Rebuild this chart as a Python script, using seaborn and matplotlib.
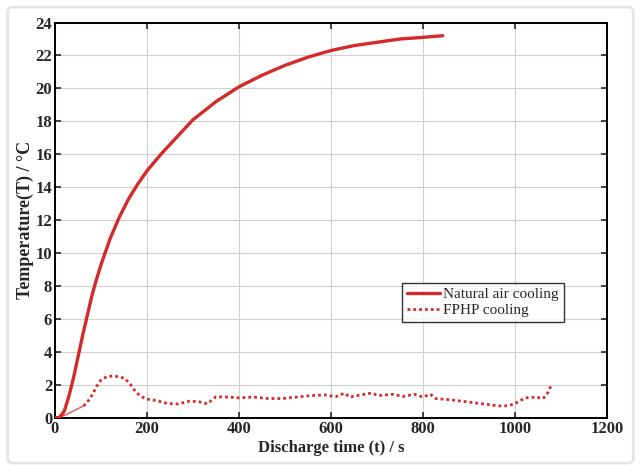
import matplotlib
matplotlib.use("Agg")
import matplotlib.pyplot as plt
import seaborn as sns
import pandas as pd
from matplotlib.patches import FancyBboxPatch

# ---- data ----
natural_t = [0, 10, 20, 30, 40, 50, 60, 70, 80, 90, 100, 110, 120, 140, 160, 180,
             200, 230, 260, 300, 350, 400, 450, 500, 550, 600, 650, 700, 750, 800, 843]
natural_T = [0, 0.05, 0.4, 1.3, 2.4, 3.7, 5.0, 6.2, 7.4, 8.4, 9.3, 10.1, 10.9,
             12.2, 13.3, 14.2, 15.0, 16.0, 16.9, 18.1, 19.2, 20.1, 20.8, 21.4,
             21.9, 22.3, 22.6, 22.8, 23.0, 23.1, 23.2]

fphp_t = [0, 20, 62, 70, 82, 90, 100, 112, 125, 140, 152, 165, 175, 185, 198, 222,
          245, 268, 292, 311, 331, 350, 377, 400, 432, 463, 494, 525, 556, 587,
          610, 629, 641, 664, 688, 703, 734, 757, 781, 800, 816, 828, 859, 890,
          921, 952, 975, 998, 1022, 1045, 1061, 1072, 1080]
fphp_T = [0, 0.15, 0.73, 0.95, 1.44, 1.9, 2.3, 2.5, 2.55, 2.5, 2.4, 2.0, 1.6, 1.35,
          1.15, 1.05, 0.88, 0.85, 1.02, 1.0, 0.86, 1.29, 1.27, 1.22, 1.27, 1.18,
          1.18, 1.27, 1.36, 1.4, 1.29, 1.51, 1.27, 1.4, 1.51, 1.36, 1.44, 1.31,
          1.44, 1.27, 1.44, 1.18, 1.11, 1.0, 0.89, 0.78, 0.71, 0.84, 1.22, 1.27,
          1.18, 1.56, 2.07]

x_ticks = [0, 200, 400, 600, 800, 1000, 1200]
y_ticks = [0, 2, 4, 6, 8, 10, 12, 14, 16, 18, 20, 22, 24]

labels = ["Natural air cooling", "FPHP cooling"]
x_label = "Discharge time (t) / s"
y_label = "Temperature(T) / \u00b0C"

# ---- plotting ----
sns.set_style("ticks")
plt.rcParams["font.family"] = ["Liberation Serif", "DejaVu Serif"]

red = "#d42a2a"

fig = plt.figure(figsize=(6.41, 4.75), dpi=100)
fig.patch.set_facecolor("white")
ax = fig.add_axes([0.0858, 0.12, 0.947 - 0.0858, 0.9526 - 0.12])

df_nat = pd.DataFrame({"t": natural_t, "T": natural_T})
df_fp = pd.DataFrame({"t": fphp_t, "T": fphp_T})

sns.lineplot(data=df_nat, x="t", y="T", ax=ax, color=red, linewidth=2.4,
             label=labels[0], sort=False, zorder=3)
# early thin solid segment of FPHP curve
sns.lineplot(data=df_fp.iloc[:3], x="t", y="T", ax=ax, color=red, linewidth=1.0,
             alpha=0.8, sort=False, legend=False, zorder=3)
sns.lineplot(data=df_fp.iloc[2:], x="t", y="T", ax=ax, color=red, linewidth=2.0,
             linestyle=(0, (1, 1.1)), label=labels[1], sort=False, zorder=3)

ax.set_xlim(0, 1200)
ax.set_ylim(0, 24)
ax.set_xticks(x_ticks)
ax.set_yticks(y_ticks)
ax.set_xticklabels([str(v) for v in x_ticks], fontsize=12, fontweight="bold")
ax.set_yticklabels([str(v) for v in y_ticks], fontsize=12, fontweight="bold")
ax.tick_params(direction="in", top=True, right=True, length=4, width=1.2, pad=2)
ax.grid(True, color="#d0d0d0", linewidth=0.8)
ax.set_axisbelow(True)
for s in ax.spines.values():
    s.set_linewidth(1.4)
    s.set_color("black")

ax.set_xlabel(x_label, fontsize=12, fontweight="bold", labelpad=2)
ax.set_ylabel(y_label, fontsize=13, fontweight="bold", labelpad=1)

leg = ax.legend(loc="upper left", bbox_to_anchor=(0.629, 0.342), fontsize=11,
                frameon=True, fancybox=False, handlelength=2.2, handletextpad=0.2,
                borderpad=0.3, labelspacing=0.15, borderaxespad=0)
leg.get_frame().set_edgecolor("black")
leg.get_frame().set_linewidth(1.0)

# faint frame around the figure
fig.patches.append(FancyBboxPatch((0.012, 0.025), 0.976, 0.96,
                                  boxstyle="round,pad=0,rounding_size=0.01",
                                  transform=fig.transFigure, fill=False,
                                  edgecolor="#e4e4e4", linewidth=2, zorder=-1))

fig.savefig("out.png", dpi=100)
